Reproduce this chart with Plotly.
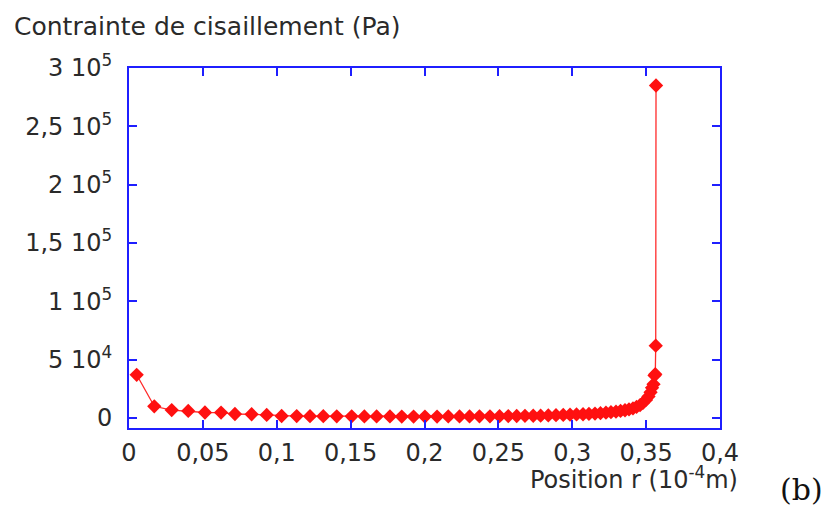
import plotly.graph_objects as go

# shear stress profile along the radius (r in 1e-4 m, stress in Pa)
position_r = [
    0.0052, 0.0171, 0.0289, 0.0401, 0.0514, 0.0623, 0.0717, 0.0830, 0.0932, 0.1033,
    0.1135, 0.1225, 0.1315, 0.1406, 0.1507, 0.1593, 0.1676, 0.1766, 0.1846, 0.1926,
    0.2003, 0.2085, 0.2161, 0.2237, 0.2305, 0.2372, 0.2443, 0.2508, 0.2567, 0.2624,
    0.2680, 0.2736, 0.2786, 0.2838, 0.2890, 0.2939, 0.2985, 0.3029, 0.3073, 0.3113,
    0.3154, 0.3191, 0.3228, 0.3262, 0.3296, 0.3327, 0.3357, 0.3384, 0.3411, 0.3435,
    0.3459, 0.3479, 0.3499, 0.3516, 0.3530, 0.3540, 0.3550, 0.3557, 0.3562, 0.3565,
    0.3567,
]
stress_pa = [
    37000, 10000, 6800, 6000, 4700, 4600, 3400, 3200, 2600, 1700,
    1600, 1500, 1500, 1400, 1400, 1300, 1300, 1300, 1200, 1200,
    1200, 1200, 1300, 1300, 1300, 1400, 1400, 1500, 1600, 1700,
    1800, 1900, 2000, 2200, 2400, 2600, 2800, 3000, 3200, 3500,
    3800, 4100, 4500, 5000, 5400, 6000, 6600, 7300, 8200, 9500,
    11000, 13000, 15500, 18500, 22000, 26000, 29000, 36500, 37500, 62000,
    285000,
]

x_ticks = [0, 0.05, 0.1, 0.15, 0.2, 0.25, 0.3, 0.35, 0.4]
x_labels = ["0", "0,05", "0,1", "0,15", "0,2", "0,25", "0,3", "0,35", "0,4"]
y_ticks = [0, 50000, 100000, 150000, 200000, 250000, 300000]
y_labels = ["0", "5 10<sup>4</sup>", "1 10<sup>5</sup>", "1,5 10<sup>5</sup>",
            "2 10<sup>5</sup>", "2,5 10<sup>5</sup>", "3 10<sup>5</sup>"]

FONT = "DejaVu Sans"
AXIS_BLUE = "#1f1fff"
TXT = "#2a2a2a"

fig = go.Figure()
fig.add_trace(
    go.Scatter(
        x=position_r,
        y=stress_pa,
        mode="lines+markers",
        line=dict(color="#ff2a2a", width=1.3),
        marker=dict(symbol="diamond", size=11, color="#ff1010"),
        showlegend=False,
    )
)

axis_common = dict(
    showgrid=False,
    zeroline=False,
    showline=True,
    linecolor=AXIS_BLUE,
    linewidth=2,
    mirror="ticks",
    ticks="inside",
    ticklen=8,
    tickwidth=2,
    tickcolor=AXIS_BLUE,
    tickfont=dict(family=FONT, size=24, color=TXT),
)

fig.update_xaxes(range=[0, 0.4], tickvals=x_ticks, ticktext=x_labels,
                 ticklabelstandoff=2, **axis_common)
fig.update_yaxes(range=[-8600, 300000], tickvals=y_ticks, ticktext=y_labels,
                 ticklabelstandoff=10, **axis_common)

fig.add_annotation(text="Contrainte de cisaillement (Pa)", xref="paper", yref="paper",
                   x=-0.198, y=1.114, xanchor="left", yanchor="middle", showarrow=False,
                   font=dict(family=FONT, size=25, color=TXT))
fig.add_annotation(text="Position r (10<sup>-4</sup>m)", xref="paper", yref="paper",
                   x=0.675, y=-0.139, xanchor="left", yanchor="middle", showarrow=False,
                   font=dict(family=FONT, size=24, color=TXT))
fig.add_annotation(text="(b)", xref="paper", yref="paper",
                   x=1.098, y=-0.172, xanchor="left", yanchor="middle", showarrow=False,
                   font=dict(family="DejaVu Serif", size=30, color="#111111"))

# page body adds an 8px offset, so the figure is 8px smaller than the window
fig.update_layout(
    width=828,
    height=498,
    margin=dict(l=121, r=116, t=60, b=78),
    paper_bgcolor="white",
    plot_bgcolor="white",
)

fig.write_html("out.html")
